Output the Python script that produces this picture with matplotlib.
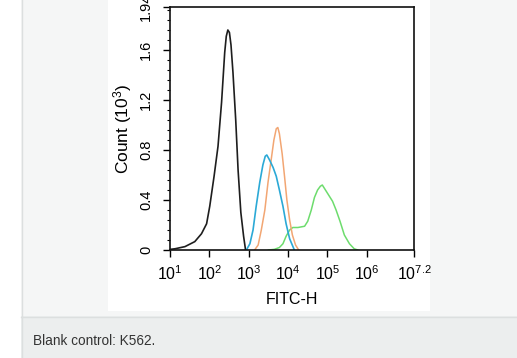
import numpy as np
import matplotlib
matplotlib.use("Agg")
import matplotlib.pyplot as plt
from matplotlib.patches import Rectangle
from matplotlib.lines import Line2D
from matplotlib.ticker import LogLocator, MultipleLocator, NullFormatter

plt.rcParams['font.family'] = ['Liberation Sans', 'DejaVu Sans']
plt.rcParams['mathtext.fontset'] = 'custom'
plt.rcParams['mathtext.rm'] = 'Liberation Sans'
plt.rcParams['mathtext.it'] = 'Liberation Sans'

# histogram traces, x in log10(FITC-H), y in thousands of counts
black_x = [1.0, 1.13, 1.38, 1.63, 1.80, 1.93, 2.01, 2.12, 2.22, 2.31, 2.39, 2.43,
           2.47, 2.51, 2.55, 2.60, 2.67, 2.73, 2.80, 2.87, 2.92]
black_y = [0.005, 0.01, 0.027, 0.067, 0.13, 0.21, 0.35, 0.59, 0.83, 1.18, 1.58, 1.71,
           1.76, 1.74, 1.64, 1.42, 1.04, 0.64, 0.30, 0.11, 0.0]

blue_x = [2.94, 3.03, 3.11, 3.19, 3.28, 3.36, 3.42, 3.46, 3.53, 3.62, 3.70, 3.78, 3.87,
          3.95, 4.04, 4.12, 4.16]
blue_y = [0.0, 0.05, 0.16, 0.35, 0.54, 0.68, 0.75, 0.76, 0.72, 0.66, 0.59, 0.48, 0.35,
          0.21, 0.09, 0.03, 0.0]

orange_x = [3.15, 3.24, 3.32, 3.41, 3.49, 3.57, 3.64, 3.70, 3.74, 3.78, 3.85, 3.91, 3.97,
            4.04, 4.11, 4.19, 4.27]
orange_y = [0.0, 0.04, 0.16, 0.32, 0.54, 0.72, 0.88, 0.97, 0.98, 0.93, 0.77, 0.59, 0.40,
            0.24, 0.12, 0.04, 0.0]

green_x = [3.50, 3.65, 3.78, 3.87, 3.95, 4.04, 4.12, 4.25, 4.42, 4.50, 4.59, 4.67, 4.75,
           4.82, 4.87, 4.95, 5.05, 5.13, 5.22, 5.32, 5.43, 5.56, 5.68, 5.77]
green_y = [0.0, 0.005, 0.02, 0.05, 0.11, 0.16, 0.18, 0.18, 0.19, 0.23, 0.32, 0.42, 0.48,
           0.51, 0.52, 0.48, 0.43, 0.39, 0.32, 0.23, 0.12, 0.05, 0.01, 0.0]

x_ticks = [1, 2, 3, 4, 5, 6, 7.2]
x_tick_labels = ['$10^{1}$', '$10^{2}$', '$10^{3}$', '$10^{4}$', '$10^{5}$', '$10^{6}$', '$10^{7.2}$']
y_ticks = [0, 0.4, 0.8, 1.2, 1.6]
y_tick_labels = ['0', '0.4', '0.8', '1.2', '1.6']
y_top = 1.944

W, H = 517, 358
fig = plt.figure(figsize=(W / 100, H / 100), dpi=100)
fig.patch.set_facecolor('white')


def box(x0, y0, x1, y1, color):
    # pixel coords, origin top-left
    fig.patches.append(Rectangle((x0 / W, 1 - y1 / H), (x1 - x0) / W, (y1 - y0) / H,
                                 transform=fig.transFigure, facecolor=color,
                                 edgecolor='none', zorder=-5))


def hline(x0, x1, y, color):
    fig.lines.append(Line2D([x0 / W, x1 / W], [1 - y / H, 1 - y / H],
                            transform=fig.transFigure, color=color, lw=1, zorder=-4))


def vline(x, y0, y1, color):
    fig.lines.append(Line2D([x / W, x / W], [1 - y0 / H, 1 - y1 / H],
                            transform=fig.transFigure, color=color, lw=1, zorder=-4))


box(21, 0, W, 316, '#f5f6f6')
box(21, 316, W, H, '#eceeee')
box(108, 0, 430, 311, 'white')
vline(21.5, 0, H, '#dcdfdf')
hline(21, W, 316.5, '#dcdfdf')

fig.text(33 / W, 1 - 341 / H, 'Blank control: K562.', fontsize=9.8, color='#333333',
         va='center', ha='left')

ax = fig.add_axes([170 / W, 1 - 250 / H, 244 / W, 243 / H])
ax.set_facecolor('white')

ax.plot(10 ** np.array(black_x), black_y, color='#1e1e1e', lw=1.2)
ax.plot(10 ** np.array(green_x), green_y, color='#6ddc6d', lw=1.1)
ax.plot(10 ** np.array(orange_x), orange_y, color='#f2a673', lw=1.1)
ax.plot(10 ** np.array(blue_x), blue_y, color='#2ba9d6', lw=1.2)

ax.set_xscale('log')
ax.set_xlim(10, 10 ** 7.2)
ax.set_ylim(0, y_top)
ax.set_xticks([10 ** t for t in x_ticks])
ax.set_xticklabels(x_tick_labels)
ax.xaxis.set_minor_locator(LogLocator(base=10, subs=np.arange(2, 10)))
ax.xaxis.set_minor_formatter(NullFormatter())
ax.set_yticks(y_ticks + [y_top])
ax.set_yticklabels(y_tick_labels + ['1.94'], rotation=90, va='center')
ax.yaxis.set_minor_locator(MultipleLocator(0.08))

ax.tick_params(axis='both', which='major', direction='out', length=5, width=1,
               colors='black')
ax.tick_params(axis='x', which='major', pad=5, labelsize=11.5)
ax.tick_params(axis='y', which='major', pad=7, labelsize=10.5)
ax.tick_params(axis='both', which='minor', direction='out', length=2.5, width=0.8)

for s in ax.spines.values():
    s.set_linewidth(1.2)
    s.set_color('#111111')

ax.set_xlabel('FITC-H', fontsize=11.5, labelpad=7)
ax.set_ylabel('Count (10$^{3}$)', fontsize=12.5, labelpad=4)

fig.savefig('out.png', dpi=100)
